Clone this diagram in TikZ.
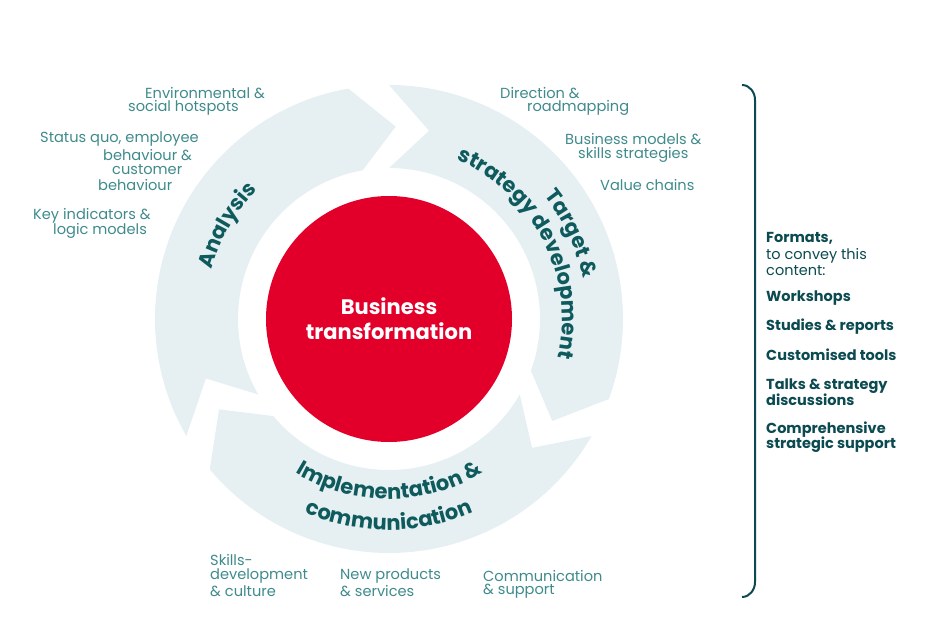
\documentclass[tikz,border=0pt]{standalone}
\usepackage{fontspec}
\setmainfont{Poppins}
\definecolor{ring}{HTML}{E6F0F3}
\definecolor{redc}{HTML}{E2002B}
\definecolor{itemc}{HTML}{3F8A8C}
\definecolor{labc}{HTML}{0E5A5C}
\definecolor{darkc}{HTML}{0B4A50}
\newlength\arcL \newlength\chL
\newcommand\labfont{\fontsize{21}{21}\selectfont\bfseries}
\newcommand\arctext[5]{%
  \pgfinterruptpicture\settowidth{\arcL}{\normalfont\labfont #4}\global\arcL=\arcL\endpgfinterruptpicture
  \pgfmathsetmacro\startang{#2 - #3*0.5*\arcL/#1*180/pi}%
  \foreach \c [remember=\nxt as \curang (initially \startang)] in {#5}{%
    \pgfinterruptpicture\settowidth{\chL}{\normalfont\labfont\c}\global\chL=\chL\endpgfinterruptpicture
    \pgfmathsetmacro\midang{\curang + #3*0.5*\chL/#1*180/pi}%
    \node[rotate=\midang + #3*90,anchor=base,inner sep=0pt,text=labc] at (\midang:#1) {\labfont\c};
    \pgfmathsetmacro\nxt{\curang + #3*\chL/#1*180/pi}%
  }}
\begin{document}
\begin{tikzpicture}[x=1pt,y=1pt,
  item/.style={anchor=west,text=itemc,font=\fontsize{14.6}{14.6}\selectfont,inner sep=0pt},
  fmt/.style={anchor=west,text=darkc,font=\fontsize{14.5}{15.5}\selectfont\bfseries,inner sep=0pt,align=left},
  ringarrow/.style={fill=ring,draw=none}]
\useasboundingbox (0,0) rectangle (945,-636);
\begin{scope}[shift={(389,-319)}]
  \def\R{234}\def\r{151}\def\m{192.5}
  \foreach \s/\e in {210/100, 90/-20, -30/-140}{
    \path[ringarrow] (\s:\R) arc[start angle=\s,end angle=\e,radius=\R]
      -- ({\e-12}:\m) -- (\e:\r) arc[start angle=\e,end angle=\s,radius=\r]
      -- ({\s-12}:\m) -- cycle;
  }
  \node[circle,fill=redc,minimum size=246pt,inner sep=0pt,text=white,align=center,
        font=\fontsize{21}{25}\selectfont\bfseries] (core) at (0,0) {Business\\transformation};
  \arctext{184}{150}{-1}{Analysis}{A,n,a,l,y,s,i,s}
  \arctext{198}{25}{-1}{Target \&}{T,a,r,g,e,t,\ ,\&}
  \arctext{173}{27}{-1}{strategy development}{s,t,r,a,t,e,g,y,\ ,d,e,v,e,l,o,p,m,e,n,t}
  \arctext{180}{270}{1}{Implementation \&}{I,m,p,l,e,m,e,n,t,a,t,i,o,n,\ ,\&}
  \arctext{211}{270}{1}{communication}{c,o,m,m,u,n,i,c,a,t,i,o,n}
\end{scope}
\node[item] (i1) at (145,-93) {Environmental \&};
\node[item] (i2) at (128,-108) {social hotspots};
\node[item] (i3) at (40,-139) {Status quo, employee};
\node[item] (i4) at (103,-155) {behaviour \&};
\node[item] (i5) at (112,-170) {customer};
\node[item] (i6) at (98,-185) {behaviour};
\node[item] (i7) at (33,-216) {Key indicators \&};
\node[item] (i8) at (53,-231) {logic models};
\node[item] (j1) at (500,-93) {Direction \&};
\node[item] (j2) at (527,-108) {roadmapping};
\node[item] (j3) at (565,-139) {Business models \&};
\node[item] (j4) at (578,-155) {skills strategies};
\node[item] (j5) at (600,-185) {Value chains};
\node[item] (k1) at (210,-560) {Skills-};
\node[item] (k2) at (210,-576) {development};
\node[item] (k3) at (210,-591) {\& culture};
\node[item] (k4) at (340,-576) {New products};
\node[item] (k5) at (340,-591) {\& services};
\node[item] (k6) at (483,-576) {Communication};
\node[item] (k7) at (483,-591) {\& support};
\coordinate (b1) at (742,-85);
\coordinate (b2) at (742,-597);
\draw[darkc,line width=2pt] (b1) to[out=0,in=90] (755,-100) -- (755,-582) to[out=-90,in=0] (b2);
\node[fmt] (f1) at (766,-238) {Formats,};
\node[anchor=west,text=darkc,font=\fontsize{14.5}{15.5}\selectfont,inner sep=0pt,align=left] (f2) at (766,-262) {to convey this\\content:};
\node[fmt] (f3) at (766,-298) {Workshops};
\node[fmt] (f4) at (766,-327) {Studies \& reports};
\node[fmt] (f5) at (766,-355) {Customised tools};
\node[fmt] (f6) at (766,-392) {Talks \& strategy\\discussions};
\node[fmt] (f7) at (766,-437) {Comprehensive\\strategic support};
\end{tikzpicture}
\end{document}
